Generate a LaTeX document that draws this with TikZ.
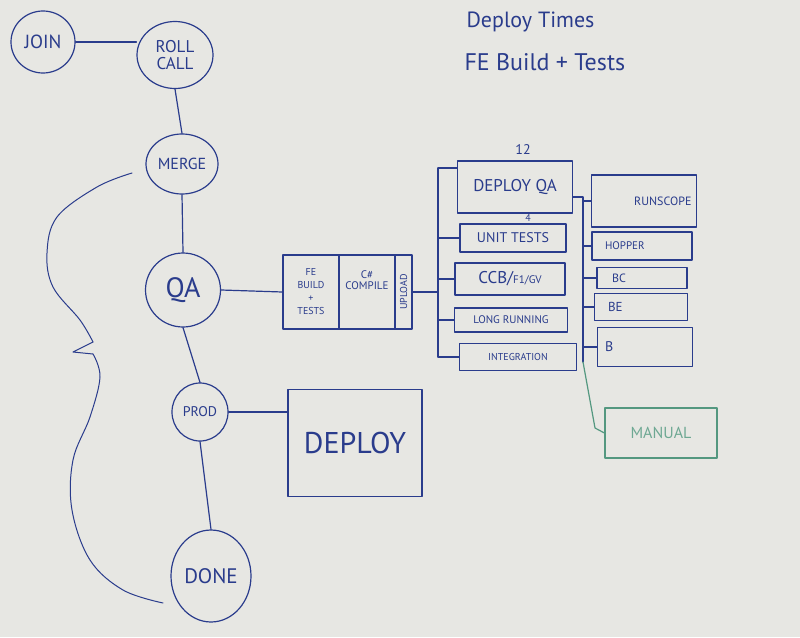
\documentclass[tikz,border=0pt]{standalone}
\usepackage{fontspec}
\setmainfont{PT Sans}
\usetikzlibrary{shapes.geometric}
\definecolor{ink}{RGB}{42,60,140}
\definecolor{board}{RGB}{231,231,227}
\definecolor{greenink}{RGB}{84,152,128}
\begin{document}
\begin{tikzpicture}[x=1pt,y=-1pt,line join=round,line cap=round,
		pen/.style={draw=ink,line width=1.2pt},
		stage/.style={pen,ellipse,inner sep=0pt,text=ink,align=center},
		job/.style={pen,rectangle,inner sep=0pt,text=ink,align=center},
		sz/.style={font=\fontsize{#1}{#1}\selectfont}]
	\fill[board] (0,0) rectangle (800,637);
	% title
	\node[text=ink,sz=22,anchor=west] (ttl1) at (463,22) {Deploy Times};
	\node[text=ink,sz=24,anchor=west] (ttl2) at (461,62) {FE Build + Tests};
	% stages
	\node[stage,minimum width=64,minimum height=62,sz=19] (join) at (43,42) {JOIN};
	\node[stage,minimum width=76,minimum height=67,sz=17] (rollcall) at (175,55) {ROLL\\CALL};
	\node[stage,minimum width=72,minimum height=60,sz=16] (merge) at (182,164) {MERGE};
	\node[stage,minimum width=75,minimum height=74,sz=28] (qa) at (183,290) {QA};
	\node[stage,minimum width=56,minimum height=58,sz=14] (prod) at (200,412) {PROD};
	\node[stage,minimum width=80,minimum height=92,sz=21] (done) at (211,576) {DONE};
	\draw[pen] (join.east)--(join.east-|rollcall.west);
	\draw[pen] (rollcall.south)--(merge.north);
	\draw[pen] (merge.south)--(qa.north);
	\draw[pen] (qa.south)--(prod.north);
	\draw[pen] (prod.south)--(done.north);
	% brace
	\draw[pen,line width=1pt] plot[smooth,tension=0.6] coordinates {(132,173) (97,187) (57,217) (47,253) (53,287) (80,320) (93,342)};
	\draw[pen,line width=1pt] (93,342)--(73,352)--(93,354);
	\draw[pen,line width=1pt] plot[smooth,tension=0.6] coordinates {(93,354) (100,377) (90,417) (73,460) (72,510) (90,560) (123,590) (163,603)};
	% FE build block
	\node[job,minimum width=56,minimum height=74,font=\fontsize{10}{13}\selectfont] (febuild) at (311,292) {FE\\BUILD\\+\\TESTS};
	\node[job,minimum width=56,minimum height=74] (compile) at (367,292) {};
	\node[job,minimum width=17,minimum height=74] (upload) at (403.5,292) {};
	\node[text=ink,align=center,sz=11] (comptxt) at (367,280) {C\#\\COMPILE};
	\node[text=ink,rotate=90,sz=10] (uptxt) at (upload) {UPLOAD};
	\draw[pen] (qa.east)--(febuild.west);
	% deploy
	\node[job,minimum width=134,minimum height=107,sz=30] (deploy) at (355,443) {DEPLOY};
	\draw[pen] (prod.east)--(prod.east-|deploy.west);
	% test jobs
	\coordinate (b1top) at (438,168);
	\node[job,minimum width=115,minimum height=52,sz=17] (deployqa) at (515,187) {DEPLOY QA};
	\node[text=ink,sz=14] (twelve) at (523,150) {12};
	\node[text=ink,sz=10] (four) at (528,218) {4};
	\node[job,minimum width=106,minimum height=28,sz=14] (unit) at (513,238) {UNIT TESTS};
	\node[job,minimum width=110,minimum height=32] (ccb) at (510,279) {\fontsize{17}{17}\selectfont CCB/\fontsize{11}{11}\selectfont F1/GV};
	\node[job,minimum width=113,minimum height=24,sz=11] (long) at (511,320) {LONG RUNNING};
	\node[job,minimum width=117,minimum height=27,sz=10] (integ) at (518,357) {INTEGRATION};
	\draw[pen] (upload.east)--(upload.east-|b1top);
	\draw[pen] (b1top)--(b1top|-integ.west);
	\draw[pen] (b1top)--(b1top-|deployqa.west);
	\foreach \j in {unit,ccb,long,integ}
		\draw[pen] (b1top|-\j.west)--(\j.west);
	% after deploy qa
	\coordinate (b2top) at (583,197);
	\coordinate (b2bot) at (583,362);
	\node[job,minimum width=105,minimum height=52,text width=95,align=right,sz=12] (runscope) at (644,201) {RUNSCOPE};
	\node[job,minimum width=100,minimum height=28,text width=74,align=left,sz=11] (hopper) at (642,246) {HOPPER};
	\node[job,minimum width=90,minimum height=21,text width=60,align=left,sz=12] (bc) at (642,278) {BC};
	\node[job,minimum width=93,minimum height=27,text width=66,align=left,sz=13] (be) at (641,307) {BE};
	\node[job,minimum width=95,minimum height=39,text width=80,align=left,sz=14] (b) at (645,347) {B};
	\draw[pen] (b2top-|deployqa.east)--(b2top)--(b2bot);
	\foreach \j in {runscope,hopper,bc,be,b}
		\draw[pen] (b2top|-\j.west)--(\j.west);
	% manual
	\node[job,draw=greenink,text=greenink!85,minimum width=112,minimum height=50,sz=16] (manual) at (661,433) {MANUAL};
	\coordinate (mbend) at (595,428);
	\draw[pen,draw=greenink] (b2bot)--(mbend)--(manual.west);
\end{tikzpicture}
\end{document}
